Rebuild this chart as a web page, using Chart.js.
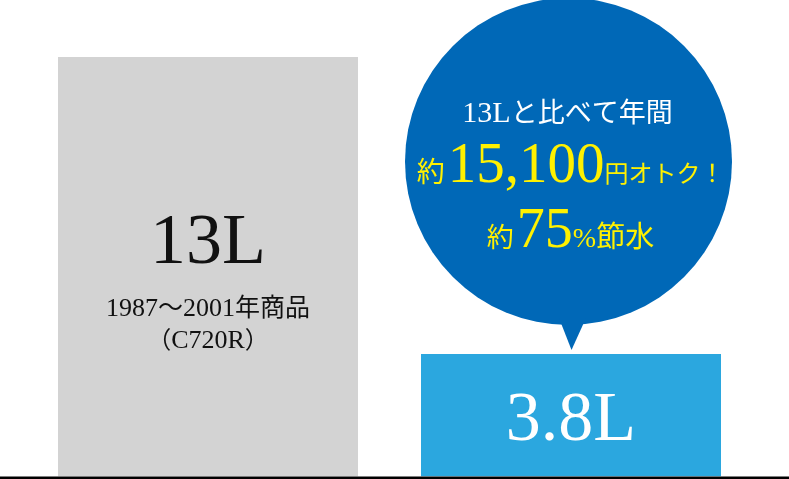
<!DOCTYPE html>
<html><head><meta charset="utf-8">
<script src="https://cdn.jsdelivr.net/npm/chart.js@4/dist/chart.umd.min.js"></script>
<style>html,body{margin:0;padding:0;background:#fff;overflow:hidden}canvas{display:block}</style>
</head><body>
<canvas id="c" width="789" height="479"></canvas>
<script>
const categories = ['13L', '3.8L'];
const values = [13, 3.8];
const barColors = ['#d3d3d3', '#2ba7df'];
const oldNoteYears = ['1987', '～', '2001', '年商品'];
const oldNoteModel = ['（', 'C720R', '）'];
const bubbleLine1 = ['13L', 'と比べて年間'];
const bubbleLine2 = ['約', '15,100', '円オトク！'];
const bubbleLine3 = ['約', '75', '%', '節水'];

const SERIF = '"Liberation Serif", "Noto Sans CJK JP", serif';
const CJK = '"Noto Sans CJK JP", sans-serif';

function drawRuns(ctx, runs, cx, y) {
  let total = 0;
  runs.forEach(r => { ctx.font = r.font; r.w = ctx.measureText(r.text).width + (r.gap || 0); total += r.w; });
  let x = cx - total / 2;
  ctx.textAlign = 'left';
  ctx.textBaseline = 'alphabetic';
  runs.forEach(r => { ctx.font = r.font; ctx.fillStyle = r.color; ctx.fillText(r.text, x, y); x += r.w; });
}

const overlay = {
  id: 'overlay',
  afterDatasetsDraw(chart) {
    const ctx = chart.ctx;
    const meta = chart.getDatasetMeta(0);
    const b0 = meta.data[0], b1 = meta.data[1];
    ctx.save();
    // baseline
    ctx.fillStyle = '#000';
    ctx.fillRect(0, chart.chartArea.bottom, chart.width, 3);
    // bubble
    const cx = b1.x - 2.5, cy = 161.5, r = 163.5;
    ctx.fillStyle = '#0068b7';
    ctx.beginPath();
    ctx.arc(cx, cy, r, 0, Math.PI * 2);
    ctx.fill();
    ctx.beginPath();
    ctx.moveTo(559, 318);
    ctx.lineTo(586, 318);
    ctx.lineTo(b1.x + 0.5, b1.y - 4);
    ctx.closePath();
    ctx.fill();
    // gray bar texts
    const K = '#111';
    ctx.fillStyle = K;
    ctx.textAlign = 'center';
    ctx.textBaseline = 'alphabetic';
    ctx.font = '72px ' + SERIF;
    ctx.fillText(categories[0], b0.x, 263);
    drawRuns(ctx, [
      {text: oldNoteYears[0], font: '26px ' + SERIF, color: K},
      {text: oldNoteYears[1], font: '25px ' + CJK, color: K},
      {text: oldNoteYears[2], font: '26px ' + SERIF, color: K},
      {text: oldNoteYears[3], font: '25px ' + CJK, color: K}
    ], b0.x, 316);
    drawRuns(ctx, [
      {text: oldNoteModel[0], font: '24px ' + CJK, color: K},
      {text: oldNoteModel[1], font: '26px ' + SERIF, color: K},
      {text: oldNoteModel[2], font: '24px ' + CJK, color: K}
    ], b0.x, 348);
    // bubble text
    const Y = '#fff100';
    drawRuns(ctx, [
      {text: bubbleLine1[0], font: '30px ' + SERIF, color: '#fff'},
      {text: bubbleLine1[1], font: '27px ' + CJK, color: '#fff', gap: 2}
    ], cx, 122);
    drawRuns(ctx, [
      {text: bubbleLine2[0], font: '28px ' + CJK, color: Y, gap: 3},
      {text: bubbleLine2[1], font: '57px ' + SERIF, color: Y},
      {text: bubbleLine2[2], font: '24px ' + CJK, color: Y}
    ], cx + 2, 182);
    drawRuns(ctx, [
      {text: bubbleLine3[0], font: '27px ' + CJK, color: Y, gap: 3},
      {text: bubbleLine3[1], font: '56px ' + SERIF, color: Y},
      {text: bubbleLine3[2], font: '28px ' + SERIF, color: Y},
      {text: bubbleLine3[3], font: '29px ' + CJK, color: Y}
    ], cx + 2, 247);
    // blue bar text
    ctx.fillStyle = '#fff';
    ctx.textAlign = 'center';
    ctx.font = '70px ' + SERIF;
    ctx.fillText(categories[1], b1.x, 440);
    ctx.restore();
  }
};

new Chart(document.getElementById('c'), {
  type: 'bar',
  data: {
    labels: categories,
    datasets: [{ data: values, backgroundColor: barColors, borderWidth: 0, barPercentage: 300 / 363, categoryPercentage: 1 }]
  },
  options: {
    responsive: false,
    animation: false,
    devicePixelRatio: 1,
    layout: { padding: { left: 26.5, right: 36.5, top: 0, bottom: 2.5 } },
    plugins: { legend: { display: false }, tooltip: { enabled: false } },
    scales: {
      x: { display: false },
      y: { display: false, min: 0, max: 14.77 }
    }
  },
  plugins: [overlay]
});
</script>
</body></html>
